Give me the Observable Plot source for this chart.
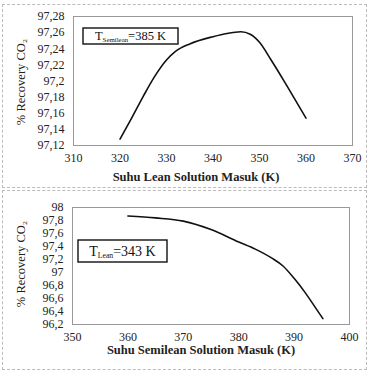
<!DOCTYPE html>
<html><head><meta charset="utf-8">
<script src="https://cdn.jsdelivr.net/npm/d3@7"></script>
<script src="https://cdn.jsdelivr.net/npm/@observablehq/plot@0.6"></script>
<style>
body{margin:0;background:#fff;width:369px;height:371px;position:relative;overflow:hidden}
.box{position:absolute;border:1px dashed #bbb;box-sizing:border-box}
.chart{position:absolute;left:0}
</style></head><body>
<div class="box" style="left:2px;top:4px;width:365px;height:184px"></div>
<div class="box" style="left:2px;top:190px;width:365px;height:180px"></div>
<div id="c1" class="chart" style="top:0"></div>
<div id="c2" class="chart" style="top:188px"></div>
<script>
// Top chart: Suhu Lean Solution Masuk (K) vs % Recovery CO2 (T_Semilean = 385 K)
const leanTemp = [320, 322.5, 325, 327.5, 330, 332, 335, 340, 343, 346, 348, 350, 352.5, 356, 360];
const leanRecovery = [97.128, 97.154, 97.181, 97.206, 97.226, 97.237, 97.246, 97.255, 97.259, 97.261, 97.258, 97.248, 97.226, 97.193, 97.154];
const leanXTicks = [310, 320, 330, 340, 350, 360, 370];
const leanYTicks = [97.12, 97.14, 97.16, 97.18, 97.20, 97.22, 97.24, 97.26, 97.28];

// Bottom chart: Suhu Semilean Solution Masuk (K) vs % Recovery CO2 (T_Lean = 343 K)
const semiTemp = [360, 365, 370, 375, 380, 383, 386, 388, 390, 392, 394, 395.2];
const semiRecovery = [97.87, 97.84, 97.79, 97.66, 97.47, 97.36, 97.22, 97.10, 96.91, 96.69, 96.44, 96.29];
const semiXTicks = [350, 360, 370, 380, 390, 400];
const semiYTicks = [96.2, 96.4, 96.6, 96.8, 97, 97.2, 97.4, 97.6, 97.8, 98];

const fmt = d => d3.format("~")(+d.toFixed(2)).replace(".", ",");
const font = "'Liberation Serif', serif";

function chart(opts) {
  const data = opts.x.map((x, i) => ({x, y: opts.y[i]}));
  const svg = Plot.plot({
    width: 369, height: opts.height,
    marginLeft: opts.ml, marginRight: opts.mr, marginTop: opts.mt, marginBottom: opts.mb,
    style: {fontFamily: font, fontSize: "12px", color: "#222", background: "transparent"},
    x: {domain: opts.xd, ticks: opts.xt, tickFormat: fmt, tickSize: 0, tickPadding: 8, label: null},
    y: {domain: opts.yd, ticks: opts.yt, tickFormat: fmt, tickSize: 0, tickPadding: 9, label: null},
    marks: [
      Plot.frame({stroke: "#999", strokeWidth: 1}),
      Plot.line(data, {x: "x", y: "y", curve: "monotone-x", stroke: "#111", strokeWidth: 1.6})
    ]
  });
  const s = d3.select(svg);
  s.append("text").attr("transform", `translate(${opts.ylx},${opts.yly}) rotate(-90)`)
    .attr("text-anchor", "middle").attr("font-size", 12.5).attr("fill", "#222")
    .style("font-family", font)
    .text("% Recovery CO₂");
  s.append("text").attr("x", opts.xlx).attr("y", opts.xly).attr("text-anchor", "middle")
    .attr("font-size", 12.5).attr("font-weight", "bold").attr("fill", "#222")
    .style("font-family", font)
    .text(opts.xlabel);
  const b = opts.box;
  s.append("rect").attr("x", b.x).attr("y", b.y).attr("width", b.w).attr("height", b.h)
    .attr("fill", "white").attr("stroke", "#111").attr("stroke-width", 1.4);
  const t = s.append("text").attr("x", b.x + b.w / 2).attr("y", b.y + b.h / 2 + b.fs * 0.35)
    .attr("text-anchor", "middle").attr("font-size", b.fs).attr("fill", "#111")
    .style("font-family", font);
  t.append("tspan").text("T");
  t.append("tspan").attr("font-size", b.fs * 0.55).attr("dy", 2).text(b.sub);
  t.append("tspan").attr("dy", -2).text(b.rest);
  return svg;
}

document.getElementById("c1").appendChild(chart({
  x: leanTemp, y: leanRecovery, height: 190,
  ml: 73, mr: 17, mt: 16, mb: 45,
  xd: [310, 370], yd: [97.12, 97.28], xt: leanXTicks, yt: leanYTicks,
  ylx: 25, yly: 82, xlx: 196, xly: 181, xlabel: "Suhu Lean Solution Masuk (K)",
  box: {x: 83, y: 28, w: 95, h: 16, fs: 12.5, sub: "Semilean", rest: "=385 K"}
}));

document.getElementById("c2").appendChild(chart({
  x: semiTemp, y: semiRecovery, height: 183,
  ml: 72, mr: 20, mt: 19, mb: 47,
  xd: [350, 400], yd: [96.2, 98], xt: semiXTicks, yt: semiYTicks,
  ylx: 25, yly: 76, xlx: 201, xly: 166, xlabel: "Suhu Semilean Solution Masuk (K)",
  box: {x: 78, y: 52, w: 89, h: 22, fs: 14, sub: "Lean", rest: "=343 K"}
}));
</script>
</body></html>
